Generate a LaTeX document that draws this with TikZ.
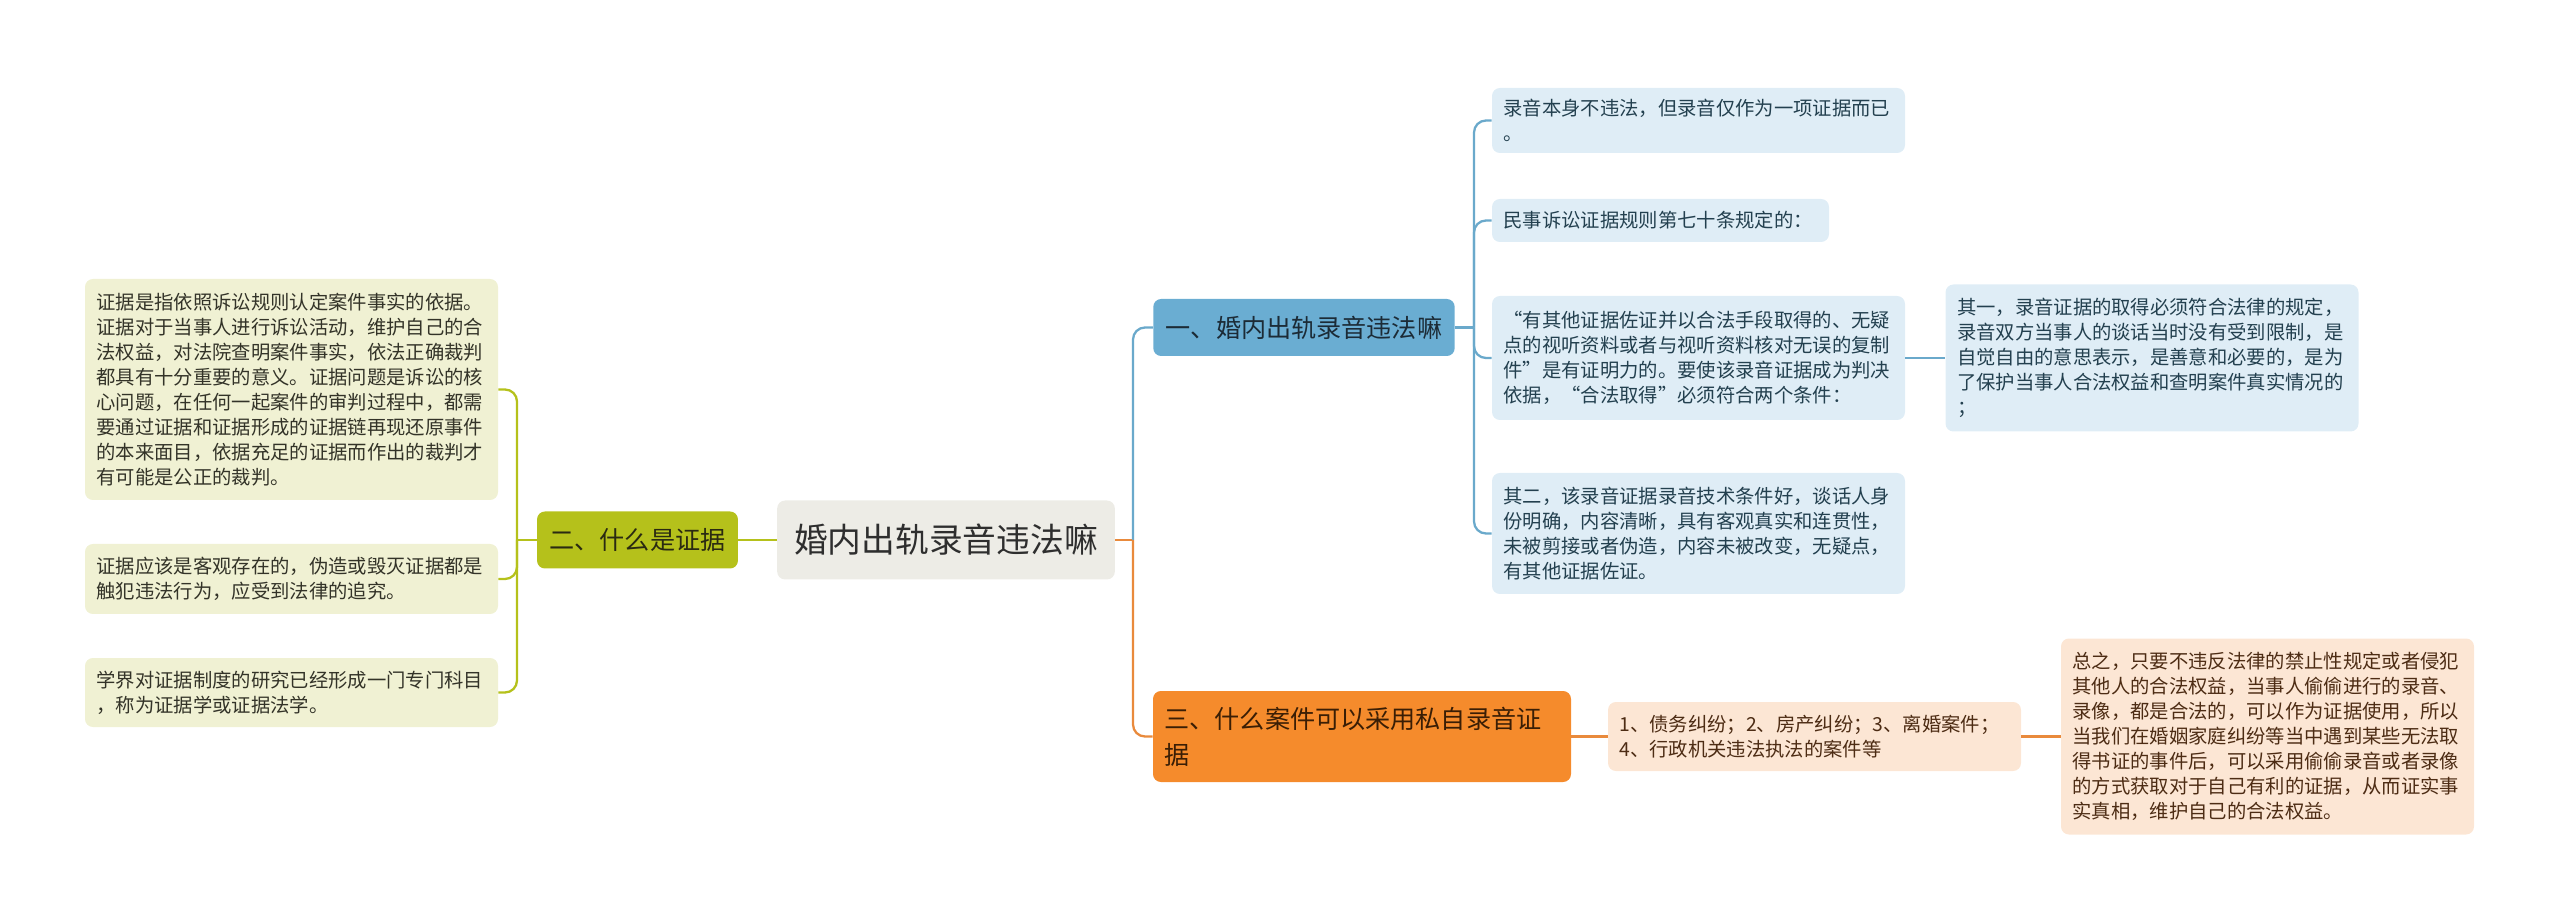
\documentclass[tikz,border=0pt]{standalone}
\usepackage{fontspec}
\setmainfont{Noto Sans CJK SC}
\definecolor{rootfill}{HTML}{EDECE6}
\definecolor{roottext}{HTML}{2E2E2E}
\definecolor{evgreen}{HTML}{B5C11B}
\definecolor{evpale}{HTML}{F0F1D3}
\definecolor{evtext}{HTML}{2A2A12}
\definecolor{evleaftext}{HTML}{333328}
\definecolor{lawblue}{HTML}{6AADD2}
\definecolor{lawline}{HTML}{6AA9CB}
\definecolor{lawpale}{HTML}{DFEDF6}
\definecolor{lawtext}{HTML}{1C2B36}
\definecolor{lawleaftext}{HTML}{23404F}
\definecolor{caseorange}{HTML}{F58B2C}
\definecolor{caseline}{HTML}{E98A3C}
\definecolor{casepale}{HTML}{FCE6D4}
\definecolor{casetext}{HTML}{3A1E05}
\definecolor{caseleaftext}{HTML}{4D2C14}

\begin{document}
\begin{tikzpicture}[
  font=\fontsize{11}{14.2}\selectfont,
  box/.style={rounded corners=4.5pt, align=left, inner ysep=0pt},
  topic/.style={box, fill=rootfill, text=roottext, font=\fontsize{19.2}{24}\selectfont,
                inner xsep=0.34cm, minimum height=1.58cm},
  branch/.style={box, inner xsep=0.25cm, minimum height=1.14cm, font=\fontsize{14.3}{20.5}\selectfont},
  evbr/.style={branch, fill=evgreen, text=evtext},
  lawbr/.style={branch, fill=lawblue, text=lawtext},
  casebr/.style={branch, fill=caseorange, text=casetext, text width=7.9cm,
                 inner xsep=0.23cm, minimum height=1.82cm},
  leaf/.style={box, inner xsep=0.23cm, text width=7.8cm},
  evleaf/.style={leaf, fill=evpale, text=evleaftext},
  lawleaf/.style={leaf, fill=lawpale, text=lawleaftext},
  caseleaf/.style={leaf, fill=casepale, text=caseleaftext},
  gline/.style={line width=1.3pt, draw=evgreen, rounded corners=0.24cm},
  bline/.style={line width=1.3pt, draw=lawline, rounded corners=0.24cm},
  oline/.style={line width=1.3pt, draw=caseline, rounded corners=0.24cm},
]
\useasboundingbox (0,0) rectangle (51.2,-18.4);

% ---- Central topic ----
\node[topic] (main) at (18.92,-10.8) {婚内出轨录音违法嘛};

% ---- Left branch : what is evidence ----
\node[evbr] (evid) at (12.75,-10.8) {二、什么是证据};
\node[evleaf, minimum height=4.42cm] (ev1) at (5.83,-7.79)
  {证据是指依照诉讼规则认定案件事实的依据。\\证据对于当事人进行诉讼活动，维护自己的合\\法权益，对法院查明案件事实，依法正确裁判\\都具有十分重要的意义。证据问题是诉讼的核\\心问题，在任何一起案件的审判过程中，都需\\要通过证据和证据形成的证据链再现还原事件\\的本来面目，依据充足的证据而作出的裁判才\\有可能是公正的裁判。};
\node[evleaf, minimum height=1.4cm] (ev2) at (5.83,-11.58)
  {证据应该是客观存在的，伪造或毁灭证据都是\\触犯违法行为，应受到法律的追究。};
\node[evleaf, minimum height=1.38cm] (ev3) at (5.83,-13.85)
  {学界对证据制度的研究已经形成一门专门科目\\，称为证据学或证据法学。};

% ---- Upper right branch : is the recording illegal ----
\node[lawbr] (legal) at (26.08,-6.55) {一、婚内出轨录音违法嘛};
\node[lawleaf, minimum height=1.3cm] (lg1) at (33.97,-2.41)
  {录音本身不违法，但录音仅作为一项证据而已\\。};
\node[lawleaf, text width=6.28cm, minimum height=0.86cm] (lg2) at (33.21,-4.41)
  {民事诉讼证据规则第七十条规定的：};
\node[lawleaf, minimum height=2.48cm] (lg3) at (33.97,-7.16)
  {“有其他证据佐证并以合法手段取得的、无疑\\点的视听资料或者与视听资料核对无误的复制\\件”是有证明力的。要使该录音证据成为判决\\依据，“合法取得”必须符合两个条件：};
\node[lawleaf, minimum height=2.42cm] (lg4) at (33.97,-10.67)
  {其二，该录音证据录音技术条件好，谈话人身\\份明确，内容清晰，具有客观真实和连贯性，\\未被剪接或者伪造，内容未被改变，无疑点，\\有其他证据佐证。};
\node[lawleaf, minimum height=2.94cm] (lg3a) at (43.04,-7.16)
  {其一，录音证据的取得必须符合法律的规定，\\录音双方当事人的谈话当时没有受到限制，是\\自觉自由的意思表示，是善意和必要的，是为\\了保护当事人合法权益和查明案件真实情况的\\；};

% ---- Lower right branch : which cases ----
\node[casebr] (cases) at (27.24,-14.73) {三、什么案件可以采用私自录音证\\据};
\node[caseleaf, minimum height=1.38cm] (cs1) at (36.29,-14.73)
  {1、债务纠纷；2、房产纠纷；3、离婚案件；\\4、行政机关违法执法的案件等};
\node[caseleaf, minimum height=3.92cm] (cs2) at (45.35,-14.73)
  {总之，只要不违反法律的禁止性规定或者侵犯\\其他人的合法权益，当事人偷偷进行的录音、\\录像，都是合法的，可以作为证据使用，所以\\当我们在婚姻家庭纠纷等当中遇到某些无法取\\得书证的事件后，可以采用偷偷录音或者录像\\的方式获取对于自己有利的证据，从而证实事\\实真相，维护自己的合法权益。};

% ---- Junction points ----
\coordinate (gj) at (10.34,-10.8);
\coordinate (rj) at (22.66,-10.8);
\coordinate (bj) at (29.48,-6.55);

% ---- Connectors ----
\draw[gline] (main) -- (evid);
\draw[gline] (evid.west) -- (gj);
\foreach \n in {ev1,ev2,ev3} \draw[gline] (gj) |- (\n.east);
\draw[oline] (main.east) -- (rj);
\draw[bline] (rj) |- (legal.west);
\draw[oline] (rj) |- (cases.west);
\draw[bline] (legal.east) -- (bj);
\foreach \n in {lg1,lg2,lg3,lg4} \draw[bline] (bj) |- (\n.west);
\draw[bline] (lg3) -- (lg3a);
\draw[oline] (cases) -- (cs1);
\draw[oline] (cs1) -- (cs2);
\end{tikzpicture}
\end{document}
